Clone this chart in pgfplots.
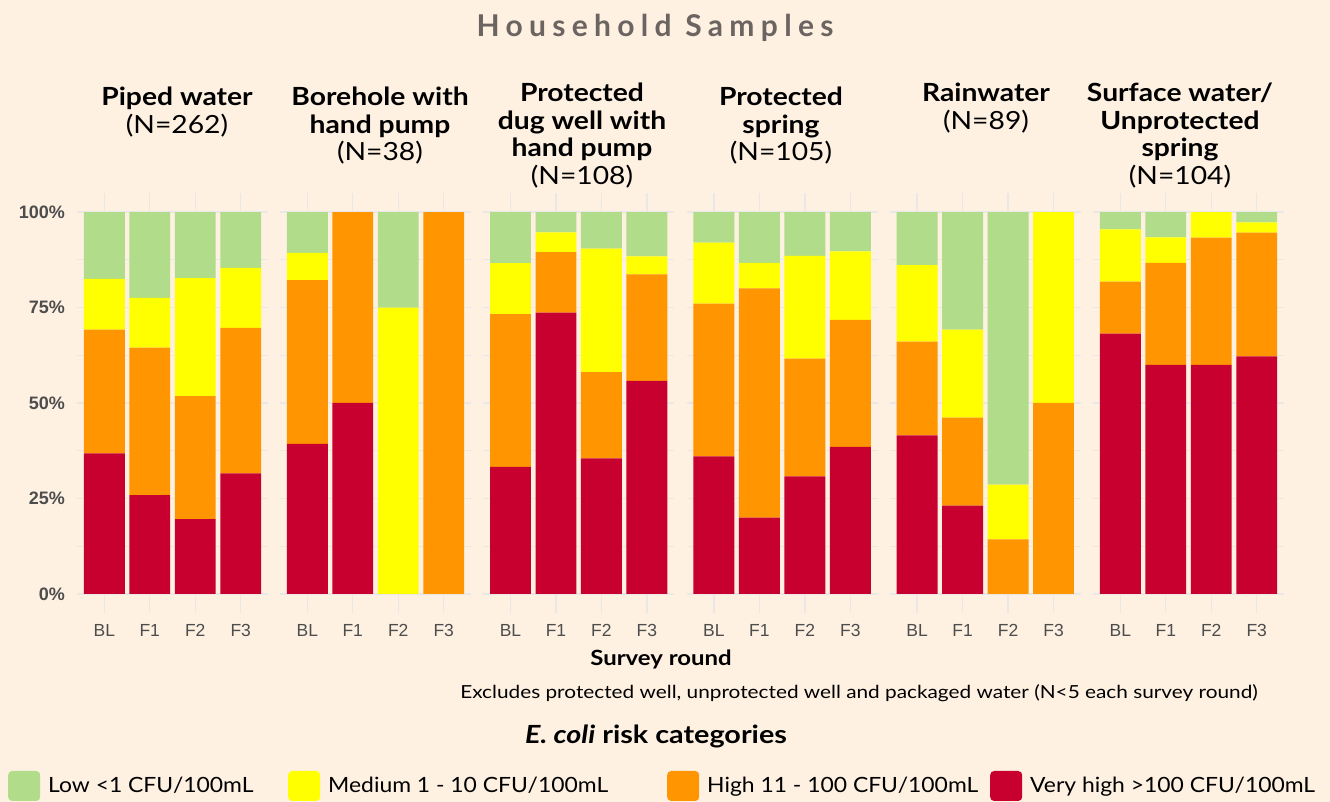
\documentclass[border=0pt]{standalone}
\usepackage{fontspec}
\setmainfont{Lato}
\newfontfamily\arial{Liberation Sans}
\newfontfamily\titlefont[LetterSpace=21]{Lato}
\usepackage{graphicx}
\usepackage{pgfplots}
\pgfplotsset{compat=1.18}
\usepackage{pgfplotstable}
\definecolor{bg}{HTML}{FEF1E2}
\definecolor{cvh}{HTML}{C80030}
\definecolor{chi}{HTML}{FF9500}
\definecolor{cmed}{HTML}{FFFF00}
\definecolor{clow}{HTML}{B1DD8A}
\definecolor{gridc}{HTML}{EAE8E6}
\definecolor{tickc}{HTML}{4D4D4D}
\definecolor{titc}{HTML}{6B6461}
\newcommand{\hs}[1]{\scalebox{1.09}[1]{#1}}

\pgfplotstableread{
x vh hi med low
0 36.8 32.4 13.3 17.5
1 25.9 38.6 13.0 22.5
2 19.6 32.2 30.9 17.3
3 31.6 38.1 15.7 14.6
}\piped
\pgfplotstableread{
x vh hi med low
0 39.3 42.9 7.1 10.7
1 50.0 50.0 0 0
2 0 0 75.0 25.0
3 0 100.0 0 0
}\borehole
\pgfplotstableread{
x vh hi med low
0 33.3 40.0 13.3 13.4
1 73.7 15.8 5.2 5.3
2 35.5 22.6 32.3 9.6
3 55.8 27.9 4.7 11.6
}\dugwell
\pgfplotstableread{
x vh hi med low
0 36.0 40.0 16.0 8.0
1 20.0 60.0 6.7 13.3
2 30.8 30.8 26.9 11.5
3 38.5 33.3 17.9 10.3
}\spring
\pgfplotstableread{
x vh hi med low
0 41.5 24.6 20.0 13.9
1 23.1 23.1 23.0 30.8
2 0 14.3 14.3 71.4
3 0 50.0 50.0 0
}\rain
\pgfplotstableread{
x vh hi med low
0 68.2 13.6 13.7 4.5
1 60.0 26.7 6.7 6.6
2 60.0 33.3 6.7 0
3 62.2 32.4 2.7 2.7
}\surface

\pgfplotsset{
  panel/.style={
    ybar stacked, bar width=0.9,
    scale only axis, width=191bp, height=420bp,
    xmin=-0.6, xmax=3.6, ymin=-5, ymax=105,
    xtick={0,1,2,3}, xticklabels={BL,F1,F2,F3},
    ytick={0,25,50,75,100}, minor ytick={12.5,37.5,62.5,87.5},
    yticklabels={0\%,25\%,50\%,75\%,100\%},
    xmajorgrids, ymajorgrids, yminorgrids,
    major grid style={draw=gridc, line width=1.4bp},
    minor grid style={draw=gridc, line width=0.8bp},
    axis line style={draw=none},
    major tick length=0pt, minor tick length=0pt,
    tick style={draw=none},
    xticklabel style={font=\arial\fontsize{17.5bp}{18bp}\selectfont, text=tickc, inner sep=0pt, yshift=-11bp},
    yticklabel style={font=\arial\bfseries\fontsize{18bp}{18bp}\selectfont, text=tickc, inner sep=0pt, xshift=-12bp},
  },
  noy/.style={yticklabels={\mbox{},\mbox{},\mbox{},\mbox{},\mbox{}}},
  bars/.style={draw=none, fill=#1},
}

\newcommand{\panel}[2]{%
  \begin{axis}[panel, at={(#1bp,189bp)}, anchor=south west, noy]
    \addplot[bars=cvh] table[x=x,y=vh]{#2};
    \addplot[bars=chi] table[x=x,y=hi]{#2};
    \addplot[bars=cmed] table[x=x,y=med]{#2};
    \addplot[bars=clow] table[x=x,y=low]{#2};
  \end{axis}}

\begin{document}
\begin{tikzpicture}
\path[use as bounding box, fill=bg] (0bp,0bp) rectangle (1330bp,802bp);

\begin{axis}[panel, at={(77bp,189bp)}, anchor=south west,
  legend columns=4, reverse legend,
  legend image code/.code={\fill[#1,draw=none,rounded corners=4bp] (0bp,-15bp) rectangle (32bp,15bp);},
  legend style={at={(-0.3613,-0.4119)}, anchor=west, draw=none, fill=none, inner sep=0pt,
    nodes={inner sep=0pt, font=\fontsize{21bp}{22bp}\selectfont},
    /tikz/every odd column/.append style={column sep=8bp}},
  legend cell align=left]
  \addplot[bars=cvh] table[x=x,y=vh]{\piped};
  \addplot[bars=chi] table[x=x,y=hi]{\piped};
  \addplot[bars=cmed] table[x=x,y=med]{\piped};
  \addplot[bars=clow] table[x=x,y=low]{\piped};
  \legend{\hs{Very high >100 CFU/100mL}, \makebox[283bp][l]{\hs{High 11 - 100 CFU/100mL}}, \makebox[339bp][l]{\hs{Medium 1 - 10 CFU/100mL}}, \makebox[240bp][l]{\hs{Low <1 CFU/100mL}}}
\end{axis}
\panel{280}{\borehole}
\panel{483.2}{\dugwell}
\panel{686.6}{\spring}
\panel{889.8}{\rain}
\panel{1093}{\surface}

% titles
\node[anchor=center, text=titc, font=\titlefont\bfseries\fontsize{30bp}{32bp}\selectfont] at (655bp,774bp) {Household Samples};
\tikzset{ptitle/.style={anchor=north, align=center, inner sep=0pt, xscale=1.13, transform shape, font=\bfseries\fontsize{25bp}{27.5bp}\selectfont}}
\node[ptitle] at (177bp,715bp) {Piped water\\\mdseries(N=262)};
\node[ptitle] at (380bp,715bp) {Borehole with\\hand pump\\\mdseries(N=38)};
\node[ptitle] at (582bp,719bp) {Protected\\dug well with\\hand pump\\\mdseries(N=108)};
\node[ptitle] at (781bp,715bp) {Protected\\spring\\\mdseries(N=105)};
\node[ptitle] at (986bp,719bp) {Rainwater\\\mdseries(N=89)};
\node[ptitle] at (1180bp,719bp) {Surface water/\\Unprotected\\spring\\\mdseries(N=104)};

\node[xscale=1.14, transform shape, font=\bfseries\fontsize{21bp}{22bp}\selectfont] at (661bp,143bp) {Survey round};
\node[anchor=east, inner sep=0pt, xscale=1.155, transform shape, font=\fontsize{18bp}{20bp}\selectfont] at (1258bp,109bp) {Excludes protected well, unprotected well and packaged water (N<5 each survey round)};
\node[xscale=1.15, transform shape, font=\bfseries\fontsize{25bp}{26bp}\selectfont] at (656bp,66bp) {\textit{E. coli} risk categories};
\end{tikzpicture}
\end{document}
